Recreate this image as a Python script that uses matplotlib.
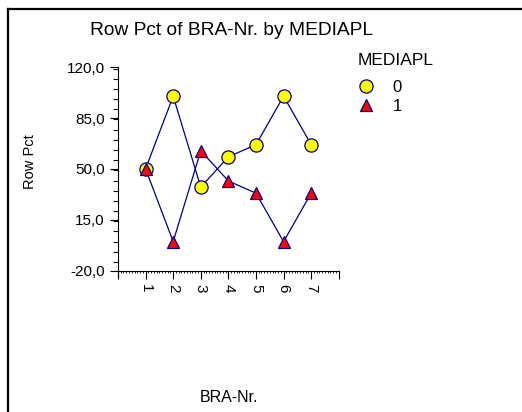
import matplotlib
matplotlib.use('Agg')
import matplotlib.pyplot as plt
from matplotlib.lines import Line2D
from matplotlib.ticker import FixedLocator, MultipleLocator, FuncFormatter

plt.rcParams['font.family'] = ['Liberation Sans', 'DejaVu Sans']

# === Data ===
bra_nr = [1, 2, 3, 4, 5, 6, 7]
pct_0 = [50.0, 100.0, 37.5, 58.3, 66.7, 100.0, 66.7]
pct_1 = [50.0, 0.0, 62.5, 41.7, 33.3, 0.0, 33.3]
y_ticks = [-20.0, 15.0, 50.0, 85.0, 120.0]
groups = ['0', '1']

NAVY = '#000080'

fig = plt.figure(figsize=(5.22, 4.12), dpi=100)
ax = fig.add_axes([0.226, 0.343, 0.423, 0.494])

ax.plot(bra_nr, pct_0, color=NAVY, lw=0.9, marker='o', ms=9.5,
        mfc='#ffff00', mec=NAVY, mew=0.9, label=groups[0], zorder=3)
ax.plot(bra_nr, pct_1, color=NAVY, lw=0.9, marker='^', ms=9,
        mfc='#ff0000', mec=NAVY, mew=0.9, label=groups[1], zorder=4)

ax.set_xlim(0, 8)
ax.set_ylim(-20, 120)
ax.spines['top'].set_visible(False)
ax.spines['right'].set_visible(False)
ax.spines['left'].set_bounds(-25, 120)

ax.yaxis.set_major_locator(FixedLocator(y_ticks))
ax.yaxis.set_minor_locator(MultipleLocator(7))
ax.yaxis.set_major_formatter(FuncFormatter(lambda v, p: f'{v:.1f}'.replace('.', ',')))
ax.xaxis.set_major_locator(FixedLocator(range(0, 9)))
ax.xaxis.set_minor_locator(MultipleLocator(0.1))
ax.set_xticklabels([''] + [str(b) for b in bra_nr] + [''], rotation=-90)

ax.tick_params(axis='both', which='major', length=6, width=0.8, labelsize=11)
ax.tick_params(axis='y', which='minor', length=3.5, width=0.8)
ax.tick_params(axis='x', which='minor', length=1.2, width=0.6)

fig.text(0.443, 0.927, 'Row Pct of BRA-Nr. by MEDIAPL', ha='center', va='center', fontsize=13.8)
fig.text(0.058, 0.607, 'Row Pct', rotation=90, ha='center', va='center', fontsize=10.5)
fig.text(0.438, 0.036, 'BRA-Nr.', ha='center', va='center', fontsize=11.5)

leg = fig.legend(loc='upper left', bbox_to_anchor=(0.686, 0.872), frameon=False,
                 title='MEDIAPL', fontsize=12, title_fontsize=12.5,
                 handlelength=1.0, handletextpad=1.05, labelspacing=0.2,
                 borderaxespad=0, borderpad=0)
leg._legend_box.align = 'left'
leg._legend_box.sep = 9
for h in leg.legend_handles:
    h.set_linestyle('None')

# outer frame (left and top only visible in this crop)
fx = 8 / 522
fy = 1 - 9 / 412
fig.add_artist(Line2D([fx, fx], [0, fy], transform=fig.transFigure, color='black', lw=1.6))
fig.add_artist(Line2D([fx, 1], [fy, fy], transform=fig.transFigure, color='black', lw=1.6))

fig.savefig('out.png', dpi=100)
